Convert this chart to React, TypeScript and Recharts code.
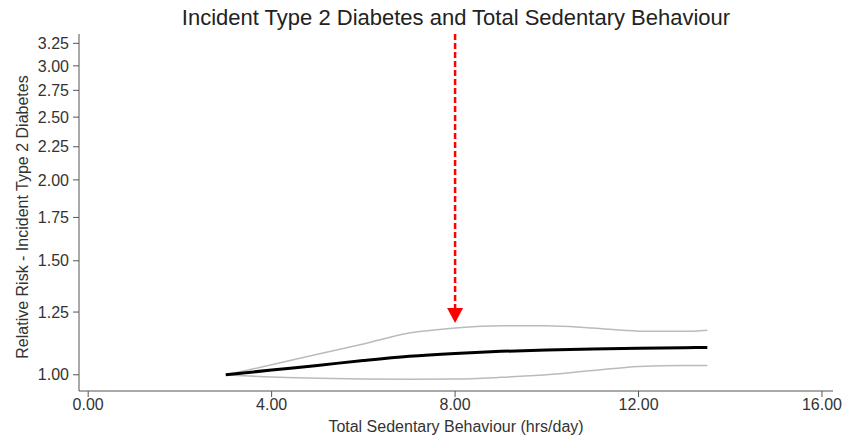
import React from "react";
import {
  LineChart,
  Line,
  XAxis,
  YAxis,
  ReferenceLine,
  ReferenceDot,
} from "recharts";

// hours/day of total sedentary behaviour
const hours = [3, 4, 5, 6, 7, 8, 9, 10, 11, 12, 13, 13.5];
// relative risk (spline estimate) and 95% CI
const rr = [1.0, 1.017, 1.034, 1.052, 1.068, 1.079, 1.087, 1.092, 1.096, 1.099, 1.101, 1.102];
const upper = [1.0, 1.036, 1.076, 1.116, 1.16, 1.181, 1.191, 1.191, 1.181, 1.168, 1.167, 1.172];
const lower = [1.0, 0.992, 0.988, 0.985, 0.984, 0.985, 0.991, 1.0, 1.015, 1.03, 1.034, 1.034];

const xTicks = [0, 4, 8, 12, 16];
const yTicks = [1, 1.25, 1.5, 1.75, 2, 2.25, 2.5, 2.75, 3, 3.25];

const markedHours = 8;

const data = hours.map((h, i) => ({
  hours: h,
  rr: rr[i],
  upper: upper[i],
  lower: lower[i],
}));

const font = '"Liberation Sans", Arial, sans-serif';
const axisColor = "#555";
const tickStyle = { fill: "#333", fontSize: 16, fontFamily: font };

const ArrowHead = (props: any) => {
  const { cx, cy } = props;
  return (
    <polygon
      points={`${cx - 8},${cy - 15} ${cx + 8},${cy - 15} ${cx},${cy}`}
      fill="#ff0000"
    />
  );
};

const YTitle = () => (
  <text
    x={22}
    y={217}
    transform="rotate(-90 22 217)"
    textAnchor="middle"
    dominantBaseline="central"
    fill="#333"
    fontSize={16}
    fontFamily={font}
  >
    Relative Risk - Incident Type 2 Diabetes
  </text>
);

export default function App() {
  return (
    <div
      style={{
        position: "fixed",
        left: 0,
        top: 0,
        width: 843,
        height: 436,
        background: "#fff",
        fontFamily: font,
      }}
    >
      <div
        style={{
          position: "absolute",
          left: 0,
          top: 5,
          width: 912,
          textAlign: "center",
          fontSize: 22,
          color: "#222",
        }}
      >
        Incident Type 2 Diabetes and Total Sedentary Behaviour
      </div>
      <LineChart
        width={843}
        height={436}
        data={data}
        margin={{ top: 34, right: 10, bottom: 0, left: 19 }}
      >
        <XAxis
          dataKey="hours"
          type="number"
          domain={[-0.2, 16.24]}
          ticks={xTicks}
          interval={0}
          tickFormatter={(v: number) => v.toFixed(2)}
          tick={tickStyle}
          stroke={axisColor}
          tickSize={6}
          height={45}
          allowDataOverflow
          label={{
            value: "Total Sedentary Behaviour (hrs/day)",
            position: "insideBottom",
            offset: 4,
            fill: "#333",
            fontSize: 16,
            fontFamily: font,
          }}
        />
        <YAxis
          type="number"
          scale="log"
          domain={[0.944, 3.36]}
          ticks={yTicks}
          interval={0}
          tickFormatter={(v: number) => v.toFixed(2)}
          tick={tickStyle}
          stroke={axisColor}
          tickSize={6}
          tickMargin={4}
          width={60}
          allowDataOverflow
          label={{ content: <YTitle /> }}
        />
        <Line
          type="monotone"
          dataKey="upper"
          stroke="#bbb"
          strokeWidth={1.5}
          dot={false}
          isAnimationActive={false}
        />
        <Line
          type="monotone"
          dataKey="lower"
          stroke="#bbb"
          strokeWidth={1.5}
          dot={false}
          isAnimationActive={false}
        />
        <Line
          type="monotone"
          dataKey="rr"
          stroke="#000"
          strokeWidth={3}
          dot={false}
          isAnimationActive={false}
        />
        <ReferenceLine
          segment={[
            { x: markedHours, y: 3.36 },
            { x: markedHours, y: 1.267 },
          ]}
          stroke="#ff0000"
          strokeWidth={2.5}
          strokeDasharray="6 3"
          ifOverflow="visible"
        />
        <ReferenceDot
          x={markedHours}
          y={1.202}
          r={8}
          shape={ArrowHead}
          ifOverflow="visible"
        />
      </LineChart>
    </div>
  );
}
